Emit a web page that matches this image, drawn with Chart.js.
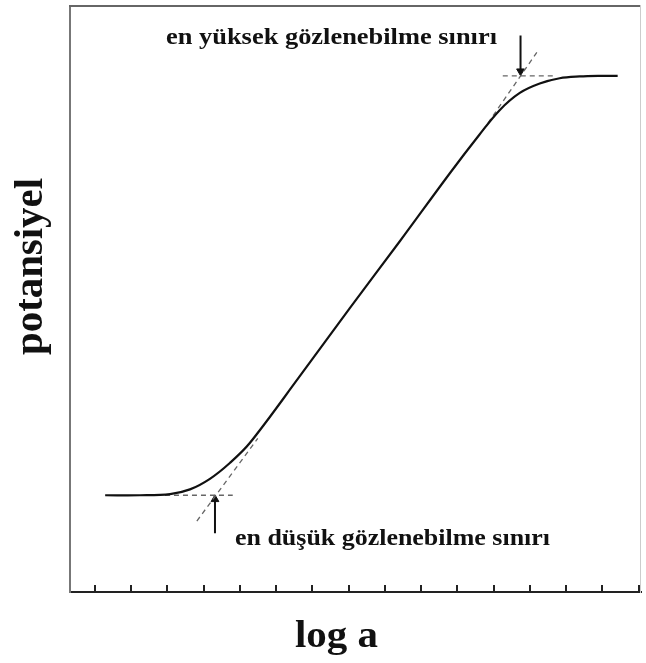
<!DOCTYPE html>
<html>
<head>
<meta charset="utf-8">
<script src="https://cdn.jsdelivr.net/npm/chart.js@4.4.1/dist/chart.umd.min.js"></script>
<style>
  html, body { margin: 0; padding: 0; background: #fff; }
  #wrap { width: 646px; height: 663px; }
</style>
</head>
<body>
<div id="wrap"><canvas id="chart"></canvas></div>
<script>
// tick positions on the log a axis (unlabelled)
const xTicks = [0, 1, 2, 3, 4, 5, 6, 7, 8, 9, 10, 11, 12, 13, 14, 15];

// potential response curve
const curveX = [0.28, 1.24, 2.07, 2.62, 3.17, 3.72, 4.27, 5.65, 7.03, 8.41, 9.79, 10.61, 11.17, 11.72, 12.27, 12.82, 13.37, 13.92, 14.42];
const curveY = [16.5, 16.5, 16.7, 17.5, 19.3, 22.0, 25.4, 36.8, 48.4, 59.8, 71.4, 78.0, 82.2, 85.1, 86.7, 87.6, 87.9, 88.0, 88.0];

// dashed construction lines
const lowFlatX = [1.93, 3.80];
const lowFlatY = [16.5, 16.5];
const lowSlopeX = [2.81, 4.49];
const lowSlopeY = [12.1, 26.2];
const highFlatX = [11.25, 12.74];
const highFlatY = [88.0, 88.0];
const highSlopeX = [10.70, 12.19];
const highSlopeY = [78.7, 92.0];

// arrows pointing at the two limits
const lowArrowX = [3.31, 3.31];
const lowArrowY = [10.0, 15.8];
const highArrowX = [11.74, 11.74];
const highArrowY = [94.9, 88.8];

const labelHigh = 'en yüksek gözlenebilme sınırı';
const labelLow = 'en düşük gözlenebilme sınırı';
const xTitle = 'log a';
const yTitle = 'potansiyel';

function pts(xs, ys) {
  return xs.map((x, i) => ({ x: x, y: ys[i] }));
}

function dashed(xs, ys) {
  return {
    data: pts(xs, ys),
    borderColor: '#666',
    borderWidth: 1.3,
    borderDash: [5, 4],
    pointRadius: 0,
    fill: false
  };
}

function arrow(xs, ys, rot) {
  return {
    data: pts(xs, ys),
    borderColor: '#111',
    backgroundColor: '#111',
    borderWidth: 2,
    pointStyle: 'triangle',
    pointRadius: [0, 4.5],
    pointRotation: rot,
    pointBorderWidth: 1,
    fill: false
  };
}

const SERIF = '"Liberation Serif", "Times New Roman", serif';

// draw text stretched to span x0..x1 like the scanned figure
function fitText(ctx, text, x0, x1, baseline, size) {
  ctx.font = 'bold ' + size + 'px ' + SERIF;
  const w = ctx.measureText(text).width;
  ctx.save();
  ctx.translate(x0, baseline);
  ctx.scale((x1 - x0) / w, 1);
  ctx.fillText(text, 0, 0);
  ctx.restore();
}

const textPlugin = {
  id: 'texts',
  afterDraw(chart) {
    const ctx = chart.ctx;
    ctx.save();
    ctx.fillStyle = '#111';
    ctx.textBaseline = 'alphabetic';
    ctx.textAlign = 'left';
    fitText(ctx, labelHigh, 166, 497, 44, 23);
    fitText(ctx, labelLow, 235, 550, 545, 23);
    fitText(ctx, xTitle, 295, 378, 647, 37);

    ctx.translate(42, 355);
    ctx.rotate(-Math.PI / 2);
    fitText(ctx, yTitle, 0, 177, 0, 40);
    ctx.restore();
  }
};

// frame-only axis: no labels, no space taken
function frameAxis(position, color, width) {
  return {
    type: 'linear',
    position: position,
    afterFit: (s) => { if (s.isHorizontal()) s.height = 0; else s.width = 0; },
    ticks: { display: false },
    grid: { display: false, drawTicks: false },
    border: { color: color, width: width }
  };
}

const yAxis = frameAxis('left', '#777', 2);
yAxis.min = 0;
yAxis.max = 100;

new Chart(document.getElementById('chart'), {
  type: 'line',
  data: {
    datasets: [
      {
        data: pts(curveX, curveY),
        borderColor: '#111',
        borderWidth: 2.2,
        pointRadius: 0,
        tension: 0.35,
        fill: false
      },
      dashed(lowFlatX, lowFlatY),
      dashed(lowSlopeX, lowSlopeY),
      dashed(highFlatX, highFlatY),
      dashed(highSlopeX, highSlopeY),
      arrow(lowArrowX, lowArrowY, 0),
      arrow(highArrowX, highArrowY, 180)
    ]
  },
  options: {
    responsive: true,
    maintainAspectRatio: false,
    animation: false,
    layout: { padding: { left: 70, top: 5, right: 5, bottom: 71 } },
    plugins: {
      legend: { display: false },
      tooltip: { enabled: false }
    },
    scales: {
      x: {
        type: 'linear',
        position: 'bottom',
        min: -0.69,
        max: 15.05,
        afterBuildTicks: (s) => { s.ticks = xTicks.map(v => ({ value: v })); },
        afterFit: (s) => { s.height = 0; },
        ticks: { display: false },
        grid: { drawOnChartArea: false, drawTicks: true, tickLength: -7, color: '#222', lineWidth: 2 },
        border: { color: '#222', width: 2 }
      },
      y: yAxis,
      x2: frameAxis('top', '#666', 2),
      y2: frameAxis('right', '#ccc', 1)
    }
  },
  plugins: [textPlugin]
});
</script>
</body>
</html>
